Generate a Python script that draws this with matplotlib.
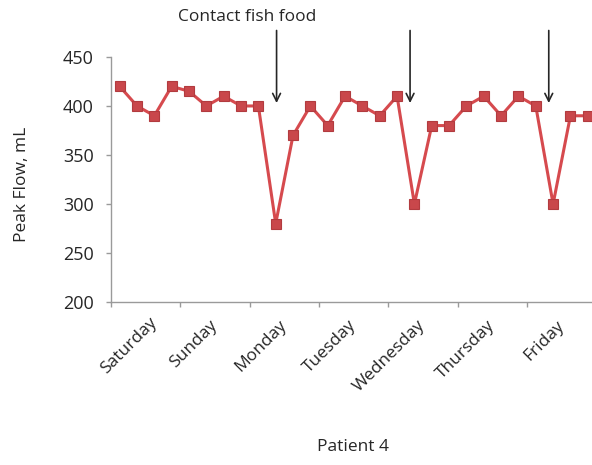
import matplotlib.pyplot as plt
import matplotlib.transforms as mtransforms
import numpy as np

# Dados: 4 leituras por dia, 7 dias
dias = ['Saturday', 'Sunday', 'Monday', 'Tuesday', 'Wednesday', 'Thursday', 'Friday']
leituras_por_dia = 4
peak_flow = [420, 400, 390, 420, 415, 400, 410, 400, 400, 280, 370, 400, 380, 410,
             400, 390, 410, 300, 380, 380, 400, 410, 390, 410, 400, 300, 390, 390]
# posições (em leituras) das setas "Contact fish food"
setas = [9.05, 16.75, 24.75]

plt.rcParams['font.family'] = ['Open Sans', 'DejaVu Sans']
cor_texto = '#262626'
cor_eixo = '#9a9a9a'

fig = plt.figure(figsize=(5.92, 4.65), dpi=100)
ax = fig.add_axes([0.1875, 0.3505, 0.82, 0.527])

x = np.arange(len(peak_flow))
ax.plot(x, peak_flow, color='#d64a4e', linewidth=2.2, marker='s', markersize=6.5,
        markerfacecolor='#c9474b', markeredgecolor='#b23b3f', markeredgewidth=0.8,
        clip_on=False, zorder=3)

ax.set_xlim(-0.5, len(peak_flow) - 0.5)
ax.set_ylim(200, 450)
ax.set_yticks([200, 250, 300, 350, 400, 450])

# ticks nas fronteiras dos dias, rótulos no centro
fronteiras = np.arange(0, len(peak_flow) + 1, leituras_por_dia) - 0.5
centros = np.arange(len(dias)) * leituras_por_dia + (leituras_por_dia - 1) / 2
ax.set_xticks(fronteiras[:-1], minor=True)
ax.set_xticks(centros)
ax.set_xticklabels(dias, rotation=45, ha='right', va='center', rotation_mode='anchor')
ax.tick_params(axis='x', which='major', length=0, pad=15, labelsize=12.5, colors=cor_texto)
ax.tick_params(axis='x', which='minor', length=3.5, width=1, color=cor_eixo, direction='out')
ax.tick_params(axis='y', length=3.5, width=1, color=cor_eixo, labelsize=13,
               labelcolor=cor_texto, pad=9)

# o primeiro rótulo fica um pouco mais à direita no original
rot0 = ax.get_xticklabels()[0]
rot0.set_transform(rot0.get_transform() + mtransforms.ScaledTranslation(0.09, 0.03, fig.dpi_scale_trans))

for lado in ['top', 'right']:
    ax.spines[lado].set_visible(False)
for lado in ['left', 'bottom']:
    ax.spines[lado].set_color(cor_eixo)
    ax.spines[lado].set_linewidth(1)

fig.text(0.037, 0.604, 'Peak Flow, mL', fontsize=12.5, color=cor_texto,
         rotation=90, ha='center', va='center')
fig.text(0.596, 0.038, 'Patient 4', fontsize=12.5, color=cor_texto,
         ha='center', va='center')

# setas de "Contact fish food"
for i in setas:
    ax.annotate('', xy=(i, 403), xytext=(i, 477), xycoords='data', textcoords='data',
                arrowprops=dict(arrowstyle='->', color=cor_texto, lw=1.2,
                                mutation_scale=14, shrinkA=0, shrinkB=0),
                annotation_clip=False)
fig.text(0.418, 0.964, 'Contact fish food', fontsize=12.5, color=cor_texto,
         ha='center', va='center')

fig.savefig('out.png', dpi=100)
